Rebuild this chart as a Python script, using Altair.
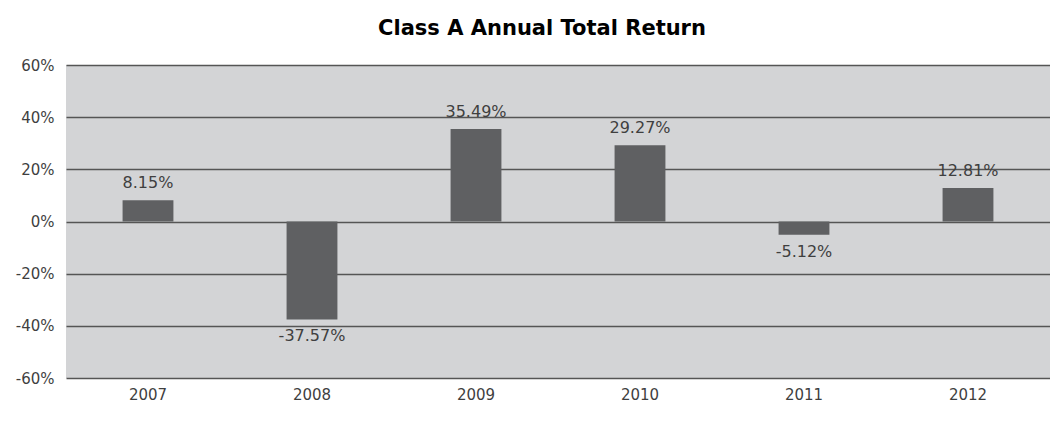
import altair as alt
import pandas as pd

years = ["2007", "2008", "2009", "2010", "2011", "2012"]
returns = [8.15, -37.57, 35.49, 29.27, -5.12, 12.81]
labels = ["8.15%", "-37.57%", "35.49%", "29.27%", "-5.12%", "12.81%"]
y_ticks = [-0.6, -0.4, -0.2, 0, 0.2, 0.4, 0.6]

df = pd.DataFrame({"year": years, "ret": [r / 100 for r in returns], "label": labels})

FONT = "DejaVu Sans"
TXT = "#3f3f3f"

x = alt.X("year:N", sort=years, title=None,
          scale=alt.Scale(paddingInner=0.69, paddingOuter=0.345),
          axis=alt.Axis(labelAngle=0, ticks=False, domain=False, labelPadding=9,
                        labelFontSize=15, labelColor=TXT, labelFont=FONT, grid=False))
y = alt.Y("ret:Q", title=None,
          scale=alt.Scale(domain=[-0.6, 0.6], nice=False),
          axis=alt.Axis(values=y_ticks, format=".0%",
                        labelExpr="replace(datum.label, '\u2212', '-')",
                        ticks=False, domain=False, labelPadding=12, labelFontSize=15,
                        labelColor=TXT, labelFont=FONT,
                        gridColor="#555555", gridWidth=1.5, gridOpacity=1))

bars = alt.Chart(df).mark_bar(color="#5f6062").encode(x=x, y=y)

pos = alt.Chart(df).transform_filter("datum.ret >= 0").mark_text(
    baseline="bottom", dy=-9, fontSize=16, font=FONT, color=TXT
).encode(x=alt.X("year:N", sort=years), y="ret:Q", text="label:N")

neg = alt.Chart(df).transform_filter("datum.ret < 0").mark_text(
    baseline="top", dy=9, fontSize=16, font=FONT, color=TXT
).encode(x=alt.X("year:N", sort=years), y="ret:Q", text="label:N")

chart = (bars + pos + neg).properties(
    width=984, height=313,
    title=alt.TitleParams("Class A Annual Total Return", font="DejaVu Sans",
                          fontSize=21, fontWeight="bold", color="#000000",
                          anchor="middle", offset=19, dx=-16),
    autosize=alt.AutoSizeParams(type="none"),
    padding={"left": 58, "top": 57, "right": 0, "bottom": 30},
).configure_view(fill="#d3d4d6", stroke=None)

chart.save("out.html", embed_options={"renderer": "svg", "actions": False})
